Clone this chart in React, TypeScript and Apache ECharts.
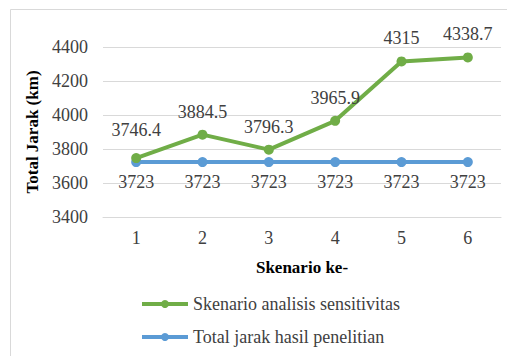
import React, { useEffect, useRef } from "react";
import * as echarts from "echarts";

const categories = ["1", "2", "3", "4", "5", "6"];
const sensitivityValues = [3746.4, 3884.5, 3796.3, 3965.9, 4315, 4338.7];
const researchValues = [3723, 3723, 3723, 3723, 3723, 3723];
const seriesNames = ["Skenario analisis sensitivitas", "Total jarak hasil penelitian"];

const FONT = "Liberation Serif";
const FS = 18;

export default function App() {
  const ref = useRef<HTMLDivElement>(null);
  useEffect(() => {
    if (!ref.current) return;
    const chart = echarts.init(ref.current, undefined, { renderer: "svg" });
    const legendText = { fontFamily: FONT, fontSize: FS, color: "#404040" };
    const legendBase = {
      left: 135,
      itemWidth: 46,
      itemHeight: 10,
      itemGap: 5,
      lineStyle: { width: 4 },
      textStyle: legendText,
    };
    chart.setOption({
      animation: false,
      textStyle: { fontFamily: FONT },
      graphic: [
        {
          type: "rect",
          shape: { x: 10.5, y: 9.5, width: 520, height: 380 },
          style: { fill: "none", stroke: "#d9d9d9", lineWidth: 1 },
          silent: true,
        },
      ],
      grid: { left: 103, right: 6, top: 47, bottom: 139 },
      legend: [
        { ...legendBase, top: 290, data: [seriesNames[0]] },
        { ...legendBase, top: 323, data: [seriesNames[1]] },
      ],
      xAxis: {
        type: "category",
        data: categories,
        name: "Skenario ke-",
        nameLocation: "middle",
        nameGap: 42,
        nameTextStyle: { fontFamily: FONT, fontSize: 17, fontWeight: "bold", color: "#000" },
        axisLine: { show: true, lineStyle: { color: "#d9d9d9" } },
        axisTick: { show: false },
        axisLabel: { fontFamily: FONT, fontSize: FS, color: "#404040", margin: 12 },
      },
      yAxis: {
        type: "value",
        min: 3400,
        max: 4400,
        interval: 200,
        name: "Total Jarak (km)",
        nameLocation: "middle",
        nameGap: 60,
        nameTextStyle: { fontFamily: FONT, fontSize: 17, fontWeight: "bold", color: "#000" },
        axisLine: { show: false },
        axisTick: { show: false },
        axisLabel: {
          fontFamily: FONT,
          fontSize: FS,
          color: "#404040",
          margin: 15,
          formatter: (v: number) => String(v),
        },
        splitLine: { lineStyle: { color: "#d9d9d9", width: 1 } },
      },
      series: [
        {
          name: seriesNames[0],
          type: "line",
          data: sensitivityValues.map((v, i) =>
            i === 0 ? { value: v, label: { distance: 14 } } : v
          ),
          color: "#70ad47",
          lineStyle: { width: 4, color: "#70ad47" },
          symbol: "circle",
          symbolSize: 10,
          itemStyle: { color: "#70ad47" },
          label: {
            show: true,
            position: "top",
            distance: 9,
            fontFamily: FONT,
            fontSize: FS,
            color: "#404040",
          },
          z: 3,
        },
        {
          name: seriesNames[1],
          type: "line",
          data: researchValues,
          color: "#5b9bd5",
          lineStyle: { width: 4, color: "#5b9bd5" },
          symbol: "circle",
          symbolSize: 10,
          itemStyle: { color: "#5b9bd5" },
          label: {
            show: true,
            position: "bottom",
            distance: 6,
            fontFamily: FONT,
            fontSize: FS,
            color: "#404040",
          },
          z: 2,
        },
      ],
    });
    return () => chart.dispose();
  }, []);
  return <div ref={ref} style={{ width: 507, height: 356, position: "absolute", left: 0, top: 0 }} />;
}
